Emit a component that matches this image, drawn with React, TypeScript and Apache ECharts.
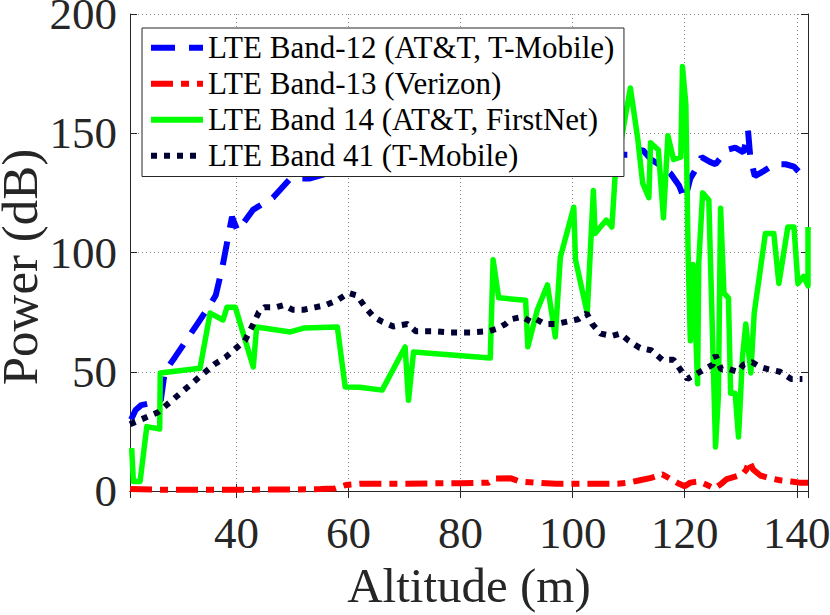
import React, { useEffect, useRef } from "react";
import * as echarts from "echarts";

const FONT = "Liberation Serif, Times New Roman, serif";
const AXIS_COLOR = "#262626";

const seriesNames = [
  "LTE Band-12 (AT&T, T-Mobile)",
  "LTE Band-13 (Verizon)",
  "LTE Band 14 (AT&T, FirstNet)",
  "LTE Band 41 (T-Mobile)",
];
const xAxisTitle = "Altitude (m)";
const yAxisTitle = "Power (dB)";

const band12X = [21.2, 22, 23, 25, 26.5, 27.2, 29, 31, 33, 35, 36.3, 37.5, 39.2, 40.2, 43, 46.5, 49.6, 53, 56, 60, 65, 70, 75, 80, 85, 90, 95, 100, 105, 108, 110.5, 112.5, 114, 116, 117.5, 119, 120, 121, 122, 123, 124.5, 125.5, 126.5, 127.5, 129, 130.5, 131.3, 131.7, 132.5, 134, 136, 138, 139.5, 140.3];
const band12Y = [30, 34, 36, 37, 38, 50, 56, 63, 70, 77, 82, 94, 115, 109, 118, 123, 131, 131, 133, 135, 137, 139, 139, 140, 141, 142, 141, 143, 142, 141, 141, 143, 139, 136, 133, 128, 122, 131, 135, 140, 138, 137, 140, 143, 144, 142, 151, 140, 132, 134, 137, 137, 136, 134];

const band13X = [21, 25, 30, 35, 40, 45, 50, 55, 57.5, 59.5, 62, 66, 70, 75, 80, 85, 86, 89, 90.5, 93.5, 97, 100, 104, 108, 110, 112, 114, 116, 117.5, 119, 120, 121, 122.5, 124, 125.3, 126.5, 127.5, 129, 130.3, 131, 131.5, 132.2, 133.5, 135, 137, 139, 140.5, 142];
const band13Y = [0.8, 0.6, 0.5, 0.5, 0.5, 0.6, 0.6, 0.8, 1, 2.5, 3, 3, 3, 3.2, 3.3, 3.5, 5.2, 5.3, 4, 3.5, 3, 3, 3, 3, 3.5, 4.5, 5.5, 7, 5, 3, 2, 3.5, 4, 2.5, 1, 3, 5, 6, 7, 9, 12.5, 9, 6.5, 5.5, 4.5, 4, 3.5, 3.5];

const band14X = [21.3, 21.6, 22.8, 24, 26.3, 26.4, 33.5, 35.3, 37.6, 38.3, 39.8, 43, 43.6, 49.6, 52, 58, 59.4, 62, 66, 70.1, 70.7, 71.6, 85.3, 85.8, 86.8, 91.6, 92, 93.7, 95.5, 96.9, 97.8, 100.2, 100.5, 102.6, 103.7, 104, 106, 107, 107.6, 110.3, 111.6, 112.5, 113.6, 113.9, 115.3, 116.2, 117, 118, 119.3, 119.6, 120.2, 120.6, 121, 121.5, 122.3, 122.5, 123.2, 124.3, 125.5, 126, 126.4, 127, 127.8, 128.2, 129, 129.6, 130.3, 130.9, 131.8, 132.4, 134.4, 135.9, 136.8, 138.4, 139.5, 140.2, 141.2, 142, 142];
const band14Y = [18, 4, 4, 27, 26, 49.5, 51.5, 74.6, 71.7, 77, 77, 52, 68.8, 66.7, 68.3, 68.8, 43.6, 43.5, 42.3, 60.4, 38, 58.3, 55.8, 97, 81, 80, 60.5, 76, 86.4, 64.6, 98, 119, 97, 74.6, 126, 108, 113.6, 110.7, 133, 169, 148, 129, 123, 146, 143, 114.5, 149, 139, 140, 178, 162, 100, 63, 95, 45, 95.6, 125, 122, 18.5, 39.6, 118.6, 83, 81, 41, 41, 22.6, 56, 70, 49.5, 74.6, 108, 108, 87, 110.7, 110.7, 87, 90, 86, 110.7];

const band41X = [21, 22, 24, 26, 28, 30, 32, 34, 36, 38, 40, 41.5, 43, 44, 45, 47, 48.5, 50, 52, 54, 56, 58, 60, 61.5, 63, 64.5, 66, 68, 70.5, 72, 75, 78, 82, 85, 86.5, 88, 89, 91, 92.5, 93.5, 95, 97, 99, 101, 102.5, 103.5, 105, 107, 108.5, 110, 112, 114, 116, 118, 119.5, 120.5, 122, 123.5, 125, 125.5, 126.5, 128, 129.5, 130.5, 132, 133.5, 135, 137, 139, 141];
const band41Y = [28, 29, 31, 33, 37, 41, 45, 49, 53, 56, 60, 63, 70, 75, 77, 77, 78, 76, 76, 77, 78, 80, 83, 82, 77, 73, 71, 69, 70, 67, 67, 66.5, 66.5, 67, 68, 70, 72, 73, 71, 72, 70, 70, 71, 72, 74.5, 70, 66, 65, 66, 63, 60, 59, 55, 55, 50, 47, 49, 51, 53, 57, 51, 51, 50, 53, 54, 52, 51, 50, 47, 47];

const xMin = 21;
const xMax = 142;
const yMin = 0;
const yMax = 200;
const yStep = 50;

const zip = (xs: number[], ys: number[]) => xs.map((x, i) => [x, ys[i]]);

export default function App() {
  const ref = useRef<HTMLDivElement>(null);

  useEffect(() => {
    if (!ref.current) return;
    const chart = echarts.init(ref.current, null, { renderer: "svg" });

    const tickLabel = { fontFamily: FONT, fontSize: 45, color: AXIS_COLOR };
    const axisLine = { show: true, lineStyle: { color: AXIS_COLOR, width: 1 } };
    const axisTick = { show: true, inside: true, length: 7, lineStyle: { color: AXIS_COLOR, width: 1 } };
    const gridLine = { show: true, lineStyle: { color: "#8a8a8a", width: 1, type: [1, 3] } };

    chart.setOption({
      animation: false,
      backgroundColor: "#ffffff",
      grid: { left: 130, right: 22, top: 14, bottom: 124, containLabel: false, outerBoundsMode: "none" },
      graphic: [
        {
          type: "text",
          x: 20,
          y: 267,
          rotation: Math.PI / 2,
          silent: true,
          style: {
            text: yAxisTitle,
            fontFamily: FONT,
            fontSize: 51,
            fill: AXIS_COLOR,
            align: "center",
            verticalAlign: "middle",
          },
        },
      ],
      xAxis: [
        {
          type: "value",
          min: xMin,
          max: xMax,
          splitNumber: 5,
          name: xAxisTitle,
          nameLocation: "middle",
          nameGap: 70,
          nameTextStyle: { fontFamily: FONT, fontSize: 49, color: AXIS_COLOR },
          axisLine,
          axisTick,
          axisLabel: { ...tickLabel, margin: 19, showMinLabel: false, showMaxLabel: false },
          splitLine: gridLine,
        },
        {
          type: "value",
          position: "top",
          min: xMin,
          max: xMax,
          splitNumber: 5,
          axisLine,
          axisTick,
          axisLabel: { show: false },
          splitLine: { show: false },
        },
      ],
      yAxis: [
        {
          type: "value",
          min: yMin,
          max: yMax,
          interval: yStep,
          axisLine,
          axisTick,
          axisLabel: { ...tickLabel, margin: 13, lineHeight: 26 },
          splitLine: gridLine,
        },
        {
          type: "value",
          position: "right",
          min: yMin,
          max: yMax,
          interval: yStep,
          axisLine,
          axisTick,
          axisLabel: { show: false },
          splitLine: { show: false },
        },
      ],
      legend: {
        show: true,
        orient: "vertical",
        left: 142,
        top: 28,
        selectedMode: false,
        backgroundColor: "#ffffff",
        borderColor: AXIS_COLOR,
        borderWidth: 1,
        borderRadius: 0,
        padding: [2, 9, 3, 6],
        itemWidth: 52,
        itemHeight: 1,
        itemGap: 0.5,
        itemStyle: { opacity: 0 },
        lineStyle: { width: 6 },
        textStyle: { fontFamily: FONT, fontSize: 31, color: "#000000", lineHeight: 35.5 },
        data: seriesNames,
      },
      series: [
        {
          name: seriesNames[0],
          type: "line",
          data: zip(band12X, band12Y),
          showSymbol: false,
          symbol: "none",
          lineStyle: { color: "#0000ff", width: 6, type: [24, 14] },
          itemStyle: { color: "#0000ff" },
        },
        {
          name: seriesNames[1],
          type: "line",
          data: zip(band13X, band13Y),
          showSymbol: false,
          symbol: "none",
          lineStyle: { color: "#ff0000", width: 6, type: [22, 8, 8, 8] },
          itemStyle: { color: "#ff0000" },
        },
        {
          name: seriesNames[2],
          type: "line",
          data: zip(band14X, band14Y),
          showSymbol: false,
          symbol: "none",
          lineStyle: { color: "#00ff00", width: 5.5, type: "solid", join: "round" },
          itemStyle: { color: "#00ff00" },
        },
        {
          name: seriesNames[3],
          type: "line",
          data: zip(band41X, band41Y),
          showSymbol: false,
          symbol: "none",
          lineStyle: { color: "#000033", width: 6, type: [6, 7] },
          itemStyle: { color: "#000033" },
        },
      ],
    });

    return () => chart.dispose();
  }, []);

  return (
    <div
      ref={ref}
      style={{ position: "fixed", left: 0, top: 0, width: 830, height: 615, background: "#ffffff" }}
    />
  );
}
